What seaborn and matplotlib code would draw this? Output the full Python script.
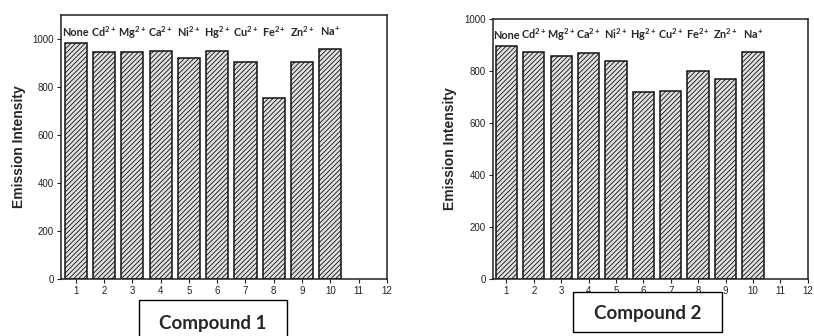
import numpy as np
import matplotlib
matplotlib.use("Agg")
import matplotlib.pyplot as plt
from matplotlib.patches import Rectangle
import seaborn as sns

positions = [1, 2, 3, 4, 5, 6, 7, 8, 9, 10]
ion_labels = ["None", r"Cd$^{2+}$", r"Mg$^{2+}$", r"Ca$^{2+}$", r"Ni$^{2+}$",
              r"Hg$^{2+}$", r"Cu$^{2+}$", r"Fe$^{2+}$", r"Zn$^{2+}$", r"Na$^{+}$"]
compound1 = [983, 946, 947, 951, 921, 949, 904, 755, 903, 959]
compound2 = [896, 872, 858, 868, 838, 719, 724, 801, 769, 873]
xticks = list(range(1, 13))

sns.set_style("ticks")
plt.rcParams["font.family"] = ["Liberation Sans", "DejaVu Sans"]
plt.rcParams["hatch.color"] = "#555555"
plt.rcParams["hatch.linewidth"] = 0.6
plt.rcParams["mathtext.fontset"] = "custom"
plt.rcParams["mathtext.rm"] = "Lato:bold"
plt.rcParams["mathtext.bf"] = "Lato:bold"

fig = plt.figure(figsize=(8.14, 3.36), dpi=100)
ax1 = fig.add_axes([0.0749, 0.1696, 0.4005, 0.7857])
ax2 = fig.add_axes([0.6053, 0.1696, 0.3870, 0.7747])


def draw(ax, values, ylim, label_y, xmin):
    sns.barplot(x=positions, y=values, native_scale=True, width=0.78,
                color="#e0e0e0", edgecolor="#111111", linewidth=1.1, ax=ax)
    for p in ax.patches:
        p.set_hatch("///////")
    for x, lab in zip(positions, ion_labels):
        ax.text(x, label_y, lab, ha="center", va="baseline", fontsize=7.8,
                fontweight="bold", family="Lato")
    ax.set_xlim(xmin, 12)
    ax.set_ylim(0, ylim)
    ax.set_xticks(xticks)
    ax.set_xticklabels([str(t) for t in xticks])
    ax.set_yticks([0, 200, 400, 600, 800, 1000])
    ax.tick_params(labelsize=7, length=3, width=0.8, colors="#222222", pad=2)
    ax.set_ylabel("Emission Intensity", fontsize=10, fontweight="bold", labelpad=5)
    for s in ax.spines.values():
        s.set_linewidth(1.1)
        s.set_color("#222222")


draw(ax1, compound1, 1100, 1012, 0.48)
draw(ax2, compound2, 1000, 922, 0.5)

for (x0, y0, w, h, txt, ty) in [(139, 300, 148, 40, "Compound 1", 323),
                                (573, 292, 149, 40, "Compound 2", 314)]:
    fig.patches.append(Rectangle((x0 / 814, 1 - (y0 + h) / 336), w / 814, h / 336,
                                 transform=fig.transFigure, facecolor="white",
                                 edgecolor="black", linewidth=1.0, zorder=5))
    fig.text((x0 + w / 2) / 814, 1 - ty / 336, txt, ha="center", va="center",
             fontsize=13.5, fontweight="bold", family="Lato", zorder=6)

fig.savefig("out.png", dpi=100)
